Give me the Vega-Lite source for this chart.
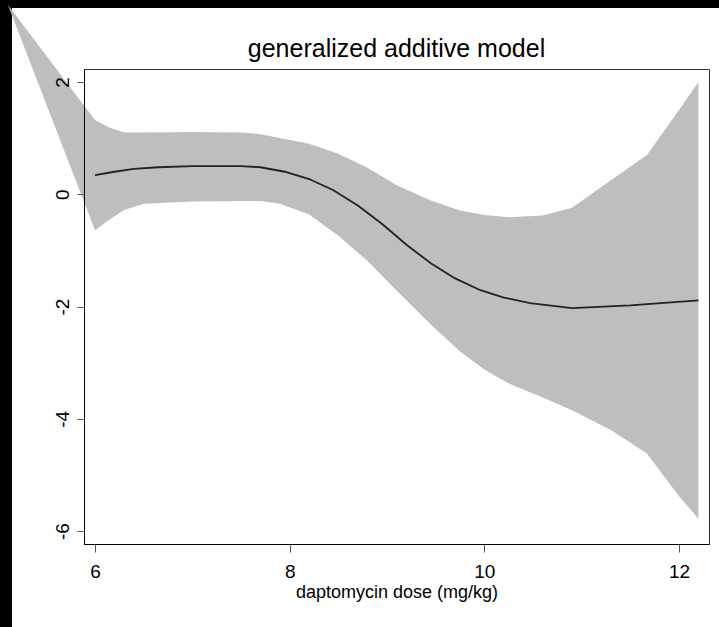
{
  "$schema": "https://vega.github.io/schema/vega-lite/v6.json",
  "autosize": "none",
  "width": 625,
  "height": 475,
  "padding": {"left": 84, "top": 69, "right": 10, "bottom": 83},
  "background": "#ffffff",
  "title": {"text": "generalized additive model", "font": "Liberation Sans", "fontSize": 25, "fontWeight": "normal", "color": "#000000", "anchor": "middle", "frame": "group", "baseline": "alphabetic", "offset": 0, "dy": 84},
  "config": {
    "view": {"stroke": "#333333", "strokeWidth": 1, "fill": "#ffffff"},
    "axis": {"grid": false, "labelFont": "Liberation Sans", "titleFont": "Liberation Sans", "labelColor": "#000000", "titleColor": "#000000", "domainColor": "#000000", "tickColor": "#555555", "labelFontSize": 19, "titleFontSize": 18, "titleFontWeight": "normal"}
  },
  "datasets": {
    "leftband": [{"part": "left"}],
    "topband": [{"part": "top"}],
    "band": [
      {"dose": 5.106, "lo": 3.37, "hi": 3.37},
      {"dose": 6.0, "lo": -0.64, "hi": 1.32},
      {"dose": 6.15, "lo": -0.45, "hi": 1.19},
      {"dose": 6.3, "lo": -0.28, "hi": 1.1},
      {"dose": 6.5, "lo": -0.17, "hi": 1.1},
      {"dose": 7.0, "lo": -0.13, "hi": 1.11},
      {"dose": 7.5, "lo": -0.12, "hi": 1.1},
      {"dose": 7.7, "lo": -0.12, "hi": 1.07},
      {"dose": 7.9, "lo": -0.17, "hi": 1.0},
      {"dose": 8.2, "lo": -0.36, "hi": 0.9},
      {"dose": 8.5, "lo": -0.74, "hi": 0.72},
      {"dose": 8.8, "lo": -1.19, "hi": 0.47},
      {"dose": 9.1, "lo": -1.72, "hi": 0.16},
      {"dose": 9.45, "lo": -2.32, "hi": -0.11},
      {"dose": 9.75, "lo": -2.8, "hi": -0.29},
      {"dose": 10.0, "lo": -3.12, "hi": -0.37},
      {"dose": 10.25, "lo": -3.37, "hi": -0.41},
      {"dose": 10.6, "lo": -3.62, "hi": -0.38},
      {"dose": 10.9, "lo": -3.85, "hi": -0.24},
      {"dose": 11.3, "lo": -4.2, "hi": 0.25},
      {"dose": 11.67, "lo": -4.62, "hi": 0.7},
      {"dose": 12.0, "lo": -5.38, "hi": 1.5},
      {"dose": 12.2, "lo": -5.78, "hi": 2.0}
    ],
    "fit": [
      {"dose": 6.0, "est": 0.34},
      {"dose": 6.2, "est": 0.4},
      {"dose": 6.4, "est": 0.45},
      {"dose": 6.65, "est": 0.48},
      {"dose": 7.0, "est": 0.5},
      {"dose": 7.5, "est": 0.5},
      {"dose": 7.7, "est": 0.48},
      {"dose": 7.95, "est": 0.4},
      {"dose": 8.2, "est": 0.27},
      {"dose": 8.45, "est": 0.07},
      {"dose": 8.7, "est": -0.2},
      {"dose": 8.95, "est": -0.53},
      {"dose": 9.2, "est": -0.9},
      {"dose": 9.45, "est": -1.23},
      {"dose": 9.7, "est": -1.5},
      {"dose": 9.96, "est": -1.71},
      {"dose": 10.2, "est": -1.84},
      {"dose": 10.47, "est": -1.94},
      {"dose": 10.9, "est": -2.03},
      {"dose": 11.5, "est": -1.98},
      {"dose": 12.2, "est": -1.89}
    ]
  },
  "layer": [
    {
      "data": {"name": "topband"},
      "mark": {"type": "rect", "color": "#000000", "clip": false},
      "encoding": {
        "x": {"datum": 4.9, "type": "quantitative", "scale": {"domain": [5.887, 12.308], "nice": false, "zero": false},
              "axis": {"values": [6, 8, 10, 12], "labelExpr": "'' + datum.value", "title": "daptomycin dose (mg/kg)", "tickSize": 8, "labelPadding": 10, "titleBaseline": "alphabetic", "titleY": 53, "labelFlush": false, "zindex": 1}},
        "x2": {"datum": 12.6},
        "y": {"datum": 3.5, "type": "quantitative", "scale": {"domain": [-6.23, 2.23], "nice": false, "zero": false},
              "axis": {"values": [-6, -4, -2, 0, 2], "labelExpr": "'' + datum.value", "title": null, "tickSize": 7, "labelAngle": -90, "labelAlign": "center", "labelBaseline": "alphabetic", "labelPadding": 9, "labelFlush": false, "zindex": 1}},
        "y2": {"datum": 3.316}
      }
    },
    {
      "data": {"name": "leftband"},
      "mark": {"type": "rect", "color": "#000000", "clip": false},
      "encoding": {
        "x": {"datum": 4.9, "type": "quantitative"},
        "x2": {"datum": 5.147},
        "y": {"datum": 3.5, "type": "quantitative"},
        "y2": {"datum": -7.9}
      }
    },
    {
      "data": {"name": "band"},
      "mark": {"type": "area", "color": "#bebebe", "opacity": 1, "clip": false},
      "encoding": {
        "x": {"field": "dose", "type": "quantitative"},
        "y": {"field": "lo", "type": "quantitative"},
        "y2": {"field": "hi"}
      }
    },
    {
      "data": {"name": "fit"},
      "mark": {"type": "line", "color": "#222222", "strokeWidth": 1.8, "clip": false},
      "encoding": {
        "x": {"field": "dose", "type": "quantitative"},
        "y": {"field": "est", "type": "quantitative"}
      }
    }
  ]
}
